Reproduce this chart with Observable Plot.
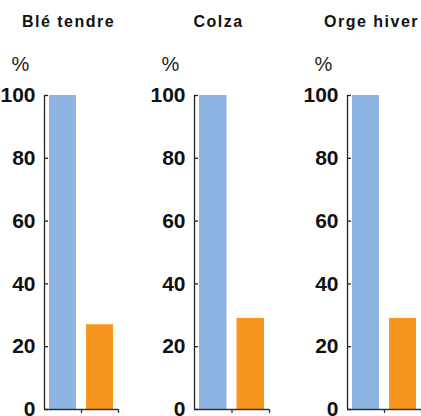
<!DOCTYPE html>
<html>
<head>
<meta charset="utf-8">
<script src="https://cdn.jsdelivr.net/npm/d3@7"></script>
<script src="https://cdn.jsdelivr.net/npm/@observablehq/plot@0.6"></script>
<style>
  html, body { margin: 0; padding: 0; background: #fff; }
  #row { display: flex; flex-direction: row; align-items: flex-start; }
  #row svg { display: block; }
</style>
</head>
<body>
<div id="row"></div>
<script>
// ---- data ----
const crops = ["Blé tendre", "Colza", "Orge hiver"];
const blueValues = [100, 100, 100];
const orangeValues = [27, 29, 29];
const yTicks = [0, 20, 40, 60, 80, 100];
const unitLabel = "%";
const colors = ["#8db4e2", "#f7961e"];

// ---- layout ----
const panelWidths = [140, 140, 141];
const marginLefts = [44, 54, 67];
const marginRights = [22, 11, 0];
const H = 416;

const row = document.getElementById("row");
const font = "'Liberation Sans', Arial, sans-serif";

crops.forEach((crop, k) => {
  const bars = [
    {i: 0, v: blueValues[k], c: colors[0]},
    {i: 1, v: orangeValues[k], c: colors[1]}
  ];
  const boundaries = bars.map(d => d.i + 1);
  const chart = Plot.plot({
    width: panelWidths[k],
    height: H,
    marginTop: 95,
    marginBottom: 7,
    marginLeft: marginLefts[k],
    marginRight: marginRights[k],
    style: {fontFamily: font, background: "white", overflow: "visible"},
    x: {type: "linear", domain: [0, bars.length], axis: null},
    y: {domain: [0, 100], axis: null},
    marks: [
      Plot.rectY(bars, {x1: d => d.i, x2: d => d.i + 1, y1: 0, y2: "v", fill: "c", insetLeft: 5, insetRight: 5}),
      Plot.ruleY([0], {stroke: "#333", strokeWidth: 1.3}),
      Plot.ruleX([0], {stroke: "#222", strokeWidth: 1.3}),
      Plot.axisX(boundaries, {tickSize: 4, tickFormat: () => "", stroke: "#333", strokeWidth: 1.3, label: null}),
      Plot.axisY(yTicks, {tickSize: -4, tickPadding: 13, stroke: "#222", strokeWidth: 1.3, fontSize: 21, fontWeight: "bold", fill: "#111", label: null}),
      Plot.text([crop], {frameAnchor: "top-left", dx: 24, dy: -74, lineAnchor: "middle", textAnchor: "middle", fontSize: 16, fontWeight: "bold", fill: "#111"}),
      Plot.text([unitLabel], {frameAnchor: "top-left", dx: -24, dy: -31, lineAnchor: "middle", textAnchor: "middle", fontSize: 20, fill: "#222"})
    ]
  });
  d3.select(chart).selectAll("text")
    .filter(function () { return this.textContent === crop; })
    .attr("letter-spacing", "1.5px");
  row.appendChild(chart);
});
</script>
</body>
</html>
